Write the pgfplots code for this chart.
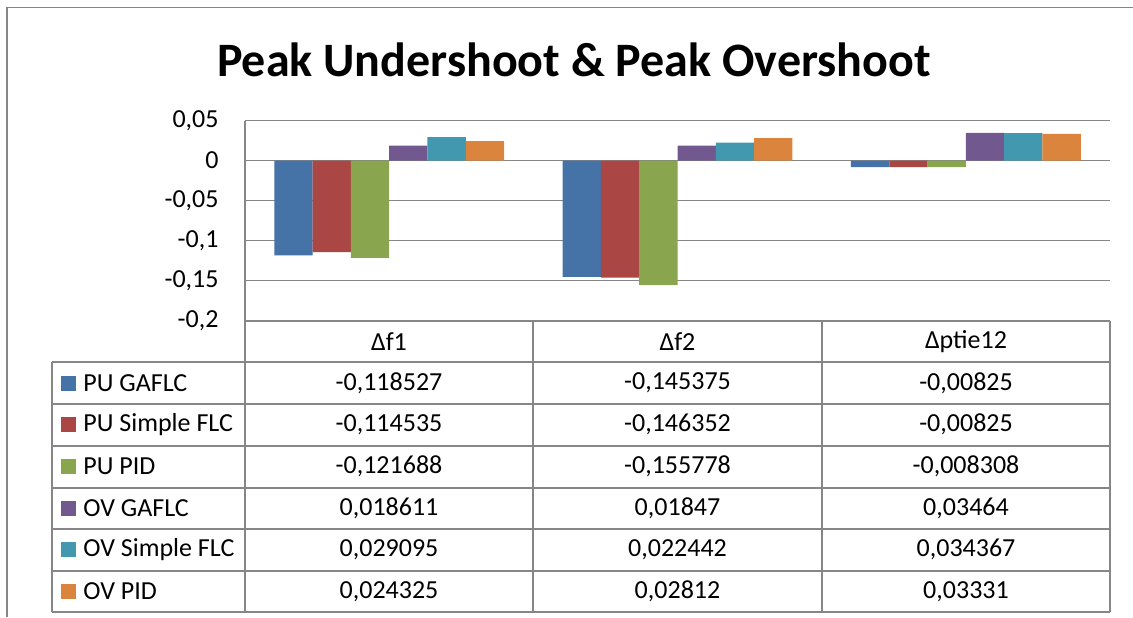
\documentclass[border=0pt]{standalone}
\usepackage{fontspec}
\setmainfont{Carlito}
\usepackage{pgfplots}
\pgfplotsset{compat=1.18}
\definecolor{cA}{RGB}{69,114,167}
\definecolor{cB}{RGB}{170,70,67}
\definecolor{cC}{RGB}{137,165,78}
\definecolor{cD}{RGB}{113,88,143}
\definecolor{cE}{RGB}{65,152,175}
\definecolor{cF}{RGB}{219,132,61}
\definecolor{gridc}{RGB}{134,134,134}
\begin{document}
\fontsize{13}{15}\selectfont
\begin{tikzpicture}
\useasboundingbox (0,0) rectangle (566.5pt,-308.5pt);
\begin{axis}[
  at={(122.5pt,-160.25pt)}, anchor=south west,
  width=432.5pt, height=100pt, scale only axis,
  xmin=-0.5, xmax=2.5, ymin=-0.2, ymax=0.05,
  ybar=0pt, bar width=19.15pt,
  xtick=\empty,
  ytick={-0.2,-0.15,-0.1,-0.05,0,0.05},
  yticklabels={{-0,2},{-0,15},{-0,1},{-0,05},{0},{0,05}},
  ymajorgrids, grid style={gridc, line width=0.8pt},
  axis x line=none, axis y line*=left,
  axis line style={gridc, line width=0.8pt},
  major tick length=0pt,
  yticklabel style={font=\fontsize{13}{15}\selectfont, xshift=-8.7pt},
  clip=false,
]
\addplot[fill=cA, draw=none] coordinates {(0,-0.118527) (1,-0.145375) (2,-0.00825)};
\addplot[fill=cB, draw=none] coordinates {(0,-0.114535) (1,-0.146352) (2,-0.00825)};
\addplot[fill=cC, draw=none] coordinates {(0,-0.121688) (1,-0.155778) (2,-0.008308)};
\addplot[fill=cD, draw=none] coordinates {(0,0.018611) (1,0.01847) (2,0.03464)};
\addplot[fill=cE, draw=none] coordinates {(0,0.029095) (1,0.022442) (2,0.034367)};
\addplot[fill=cF, draw=none] coordinates {(0,0.024325) (1,0.02812) (2,0.03331)};
\end{axis}
\begin{scope}[x=0.5pt,y=-0.5pt]
\draw[gridc, line width=0.8pt] (7,617) -- (7,7.5) -- (1133,7.5);
\node[font=\fontsize{24}{28}\selectfont\bfseries] at (574,60) {Peak Undershoot \& Peak Overshoot};
\begin{scope}[gridc, line width=0.8pt]
\draw (245,321) -- (1110,321);
\foreach \yy in {362,404,446,488,529,571,612} \draw (52,\yy) -- (1110,\yy);
\draw (52,362) -- (52,612);
\foreach \xx in {245,533,822} \draw (\xx,321) -- (\xx,612);
\draw[line width=1.1pt] (1110,321) -- (1110,612);
\end{scope}
\node at (389,342) {Δf1};
\node at (677.5,342) {Δf2};
\node at (966,342) {Δptie12};
\foreach \c/\lab/\a/\b/\d [count=\i from 0] in {
  cA/PU GAFLC/{-0,118527}/{-0,145375}/{-0,00825},
  cB/PU Simple FLC/{-0,114535}/{-0,146352}/{-0,00825},
  cC/PU PID/{-0,121688}/{-0,155778}/{-0,008308},
  cD/OV GAFLC/{0,018611}/{0,01847}/{0,03464},
  cE/OV Simple FLC/{0,029095}/{0,022442}/{0,034367},
  cF/OV PID/{0,024325}/{0,02812}/{0,03331}} {
  \pgfmathsetmacro{\yc}{383+41.7*\i}
  \fill[\c] (61,\yc-7.5) rectangle (76,\yc+7.5);
  \node[anchor=west, inner sep=0pt] at (83,\yc) {\lab};
  \node at (389,\yc) {\a};
  \node at (677.5,\yc) {\b};
  \node at (966,\yc) {\d};
}
\end{scope}
\end{tikzpicture}
\end{document}
